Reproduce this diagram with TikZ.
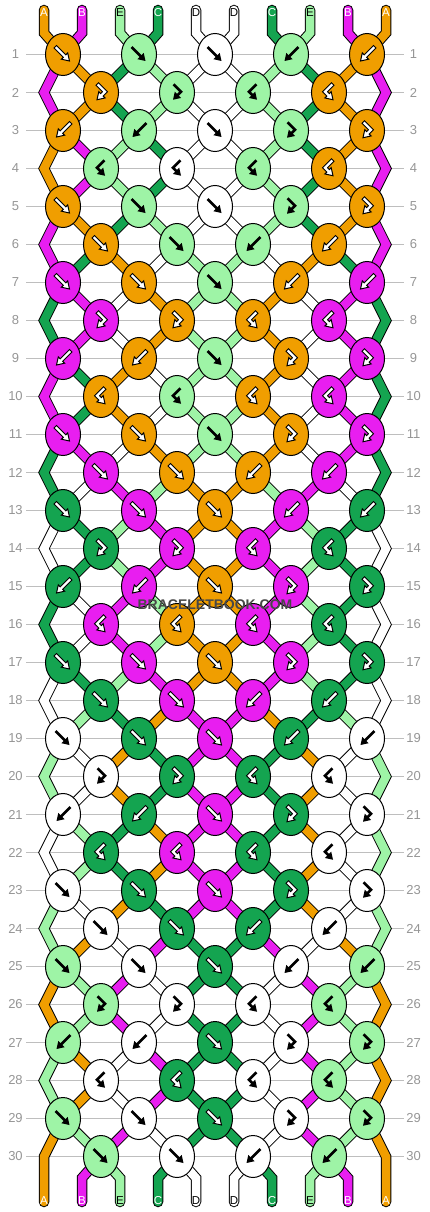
\documentclass[tikz,border=0pt]{standalone}
\usepackage{fontspec}
\setmainfont{Liberation Sans}
\usetikzlibrary{shapes.geometric}

\definecolor{colA}{RGB}{240,158,0}
\definecolor{colB}{RGB}{232,30,240}
\definecolor{colC}{RGB}{20,164,80}
\definecolor{colD}{RGB}{255,255,255}
\definecolor{colE}{RGB}{158,244,166}
\colorlet{txtA}{white}
\colorlet{txtB}{white}
\colorlet{txtC}{white}
\colorlet{txtD}{black}
\colorlet{txtE}{black}
\definecolor{rowgray}{RGB}{190,190,190}
\definecolor{numgray}{RGB}{150,150,150}
\definecolor{markgray}{RGB}{72,72,72}

%% arrows drawn in the knots
\def\ashf{(-6.5,-6.5) -- (2.5,2.5)}
\def\ahdf{(6.5,6.5) -- ++(-1.8,-8.1) -- ++(-6.3,6.3) -- cycle}
\def\ashb{(6.5,-6.5) -- (-2.5,2.5)}
\def\ahdb{(-6.5,6.5) -- ++(1.8,-8.1) -- ++(6.3,6.3) -- cycle}
\def\ashfb{(-2.5,-7.25) -- (4,-0.75) -- (0,3.25)}
\def\ahdfb{(-4,7.25) -- ++(1.8,-8.1) -- ++(6.3,6.3) -- cycle}
\def\ashbf{(2.5,-7.25) -- (-4,-0.75) -- (0,3.25)}
\def\ahdbf{(4,7.25) -- ++(-1.8,-8.1) -- ++(-6.3,6.3) -- cycle}

\newcommand\arrw[1]{%
  \draw[black, line width=4.4pt, line cap=rect] \csname ash#1\endcsname;
  \filldraw[fill=white, draw=black, line width=1pt] \csname ahd#1\endcsname;
  \draw[white, line width=2.4pt, line cap=rect] \csname ash#1\endcsname;}
\newcommand\arrk[1]{%
  \draw[black, line width=2.6pt, line cap=rect] \csname ash#1\endcsname;
  \fill[black] \csname ahd#1\endcsname;}

\expandafter\def\csname tone-A\endcsname{w}
\expandafter\def\csname tone-B\endcsname{w}
\expandafter\def\csname tone-C\endcsname{w}
\expandafter\def\csname tone-D\endcsname{k}
\expandafter\def\csname tone-E\endcsname{k}
\expandafter\def\csname side-f\endcsname{1}
\expandafter\def\csname side-bf\endcsname{1}
\expandafter\def\csname side-b\endcsname{0}
\expandafter\def\csname side-fb\endcsname{0}

\begin{document}
\begin{tikzpicture}[x=1pt, y=-1pt,
  knot/.style={ellipse, draw=black, line width=1pt, minimum width=35pt,
    minimum height=42pt, inner sep=0pt},
  thread/.style={draw=black, line width=1pt, double=#1,
    double distance=8.5pt, line cap=round},
  rowline/.style={rowgray, line width=1pt},
  rownum/.style={text=numgray, font=\fontsize{13}{15}\selectfont},
  endlbl/.style={font=\fontsize{11.5}{13}\selectfont, inner sep=0pt},
  watermark/.style={text=markgray, font=\bfseries\fontsize{14}{16}\selectfont}]

\newcommand\RowH{38}
\newcommand\ColW{38}

\useasboundingbox (0,0) rectangle (430,1212);
\fill[white] (0,0) rectangle (430,1212);

%% strings after each row (row 0 = top)
\foreach \st [count=\rw from 0] in {
  {A,B,E,C,D,D,C,E,B,A},{B,A,C,E,D,D,E,C,A,B},{B,A,C,E,D,D,E,C,A,B},
  {A,B,E,C,D,D,E,C,A,B},{A,B,E,C,D,D,E,C,A,B},{B,A,C,E,D,D,E,C,A,B},
  {B,C,A,D,E,E,D,A,C,B},{C,B,D,A,E,E,A,D,B,C},{C,B,D,A,E,E,A,D,B,C},
  {B,C,A,D,E,E,A,D,B,C},{B,C,A,D,E,E,A,D,B,C},{C,B,D,A,E,E,A,D,B,C},
  {C,D,B,E,A,A,E,B,D,C},{D,C,E,B,A,A,B,E,C,D},{D,C,E,B,A,A,B,E,C,D},
  {C,D,B,E,A,A,B,E,C,D},{C,D,B,E,A,A,B,E,C,D},{D,C,E,B,A,A,B,E,C,D},
  {D,E,C,A,B,B,A,C,E,D},{E,D,A,C,B,B,C,A,D,E},{E,D,A,C,B,B,C,A,D,E},
  {D,E,C,A,B,B,C,A,D,E},{D,E,C,A,B,B,C,A,D,E},{E,D,A,C,B,B,C,A,D,E},
  {E,A,D,B,C,C,B,D,A,E},{A,E,B,D,C,C,D,B,E,A},{A,E,B,D,C,C,D,B,E,A},
  {E,A,D,B,C,C,D,B,E,A},{E,A,D,B,C,C,D,B,E,A},{A,E,B,D,C,C,D,B,E,A},
  {A,B,E,C,D,D,C,E,B,A}}
  {\foreach \kc [count=\ps] in \st
    {\expandafter\xdef\csname s-\rw-\ps\endcsname{\kc}}}

%% knot kinds, repeating every 6 rows
\foreach \lst [count=\md from 0] in {{f,f,f,b,b},{fb,fb,bf,bf},
  {b,b,f,fb,fb},{bf,bf,bf,bf},{f,f,f,fb,fb},{f,f,b,b}}
  {\foreach \kt [count=\kn] in \lst
    {\expandafter\xdef\csname ty-\md-\kn\endcsname{\kt}}}

%% places
\foreach \ps in {1,...,10} {
  \pgfmathsetmacro\xs{215+\ColW/2*(2*\ps-11)}
  \coordinate (t-\ps) at (\xs,10);
  \coordinate (p-0-\ps) at (\xs,33);
  \coordinate (p-31-\ps) at (\xs,1178);
  \coordinate (b-\ps) at (\xs,1202);
  \coordinate (lt-\ps) at (\xs,12.5);
  \coordinate (lb-\ps) at (\xs,1201);
}
\foreach \rw in {1,...,30} {
  \pgfmathsetmacro\yr{54.5+\RowH*(\rw-1)}
  \foreach \ps in {1,...,10} {
    \pgfmathsetmacro\xp{mod(\rw,2)==1 ? 76*int((\ps+1)/2)-13 :
      (\ps==1 ? 44 : (\ps==10 ? 386 : 76*int(\ps/2)+25))}
    \coordinate (p-\rw-\ps) at (\xp,\yr);
  }
  \draw[rowline] (26,\yr) -- (404,\yr);
  \node[rownum] (ln-\rw) at (15.5,\yr) {\rw};
  \node[rownum] (rn-\rw) at (413.5,\yr) {\rw};
}

%% threads
\foreach \ps in {1,...,10} {
  \edef\kc{\csname s-0-\ps\endcsname}
  \draw[thread=col\kc] (t-\ps) -- (p-0-\ps) -- (p-1-\ps);
}
\foreach \rw in {1,...,29} {
  \pgfmathtruncatemacro\nx{\rw+1}
  \foreach \ps in {2,...,9} {
    \edef\kc{\csname s-\rw-\ps\endcsname}
    \draw[thread=col\kc] (p-\rw-\ps) -- (p-\nx-\ps);
  }
}
\foreach \rw in {2,4,...,28} {
  \pgfmathtruncatemacro\pv{\rw-1}
  \pgfmathtruncatemacro\nx{\rw+1}
  \foreach \ps in {1,10} {
    \edef\kc{\csname s-\rw-\ps\endcsname}
    \draw[thread=col\kc] (p-\pv-\ps) -- (p-\rw-\ps) -- (p-\nx-\ps);
  }
}
\foreach \ps in {2,...,9} {
  \edef\kc{\csname s-30-\ps\endcsname}
  \draw[thread=col\kc] (p-30-\ps) -- (p-31-\ps) -- (b-\ps);
}
\foreach \ps in {1,10} {
  \edef\kc{\csname s-30-\ps\endcsname}
  \draw[thread=col\kc] (p-29-\ps) -- (p-30-\ps) -- (p-31-\ps) -- (b-\ps);
}

%% knots
\foreach \rw in {1,...,30} {
  \pgfmathtruncatemacro\md{mod(\rw-1,6)}
  \pgfmathtruncatemacro\nk{mod(\rw,2)==1 ? 5 : 4}
  \foreach \kn in {1,...,\nk} {
    \pgfmathtruncatemacro\lp{mod(\rw,2)==1 ? 2*\kn-1 : 2*\kn}
    \edef\kt{\csname ty-\md-\kn\endcsname}
    \edef\sd{\csname side-\kt\endcsname}
    \pgfmathtruncatemacro\cp{\lp+\sd}
    \edef\kc{\csname s-\rw-\cp\endcsname}
    \node[knot, fill=col\kc] (n-\rw-\kn) at (p-\rw-\lp) {};
    \begin{scope}[shift={(n-\rw-\kn.center)}]
      \csname arr\csname tone-\kc\endcsname\endcsname{\kt}
    \end{scope}
  }
}

%% string letters
\foreach \ps in {1,...,10} {
  \edef\kc{\csname s-0-\ps\endcsname}
  \node[endlbl, text=txt\kc] (top-\ps) at (lt-\ps) {\kc};
  \node[endlbl, text=txt\kc] (bot-\ps) at (lb-\ps) {\kc};
}

\node[watermark] (wm) at (215,605) {BRACELETBOOK.COM};

\end{tikzpicture}
\end{document}
